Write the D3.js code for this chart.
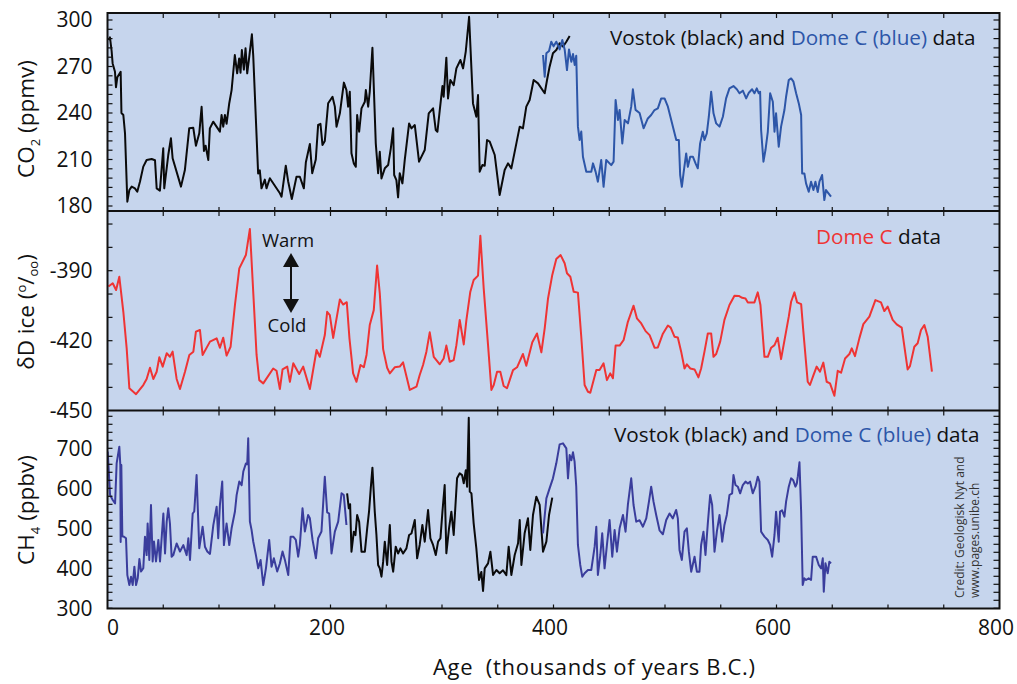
<!DOCTYPE html>
<html><head><meta charset="utf-8">
<script src="https://cdn.jsdelivr.net/npm/d3@7"></script>
<style>body{margin:0;background:#fff} svg{display:block} text{font-family:"Open Sans",sans-serif}</style>
</head><body><svg id="c" width="1017" height="684"></svg>
<script>
// ---------- DATA (age in kyr B.C., value) ----------
const co2Vostok = [[1,287],[2.2,288.8],[3.7,280],[4.6,272],[6.7,266.6],[7.6,256.6],[8.8,263],[11.8,266.6],[12.5,240],[14.2,238.7],[15.7,226.9],[17.8,182.8],[19.6,190.3],[21.7,192.5],[24.6,191.4],[26.7,189.2],[29.1,195.7],[32.1,205.4],[35.1,209.7],[39.6,210.3],[42.6,209.5],[44.1,191.4],[47.0,189.9],[50.0,217.2],[50.9,191.4],[54.5,212.9],[56.9,223.7],[58.4,210.8],[65.9,192.5],[69.4,203.2],[73.3,230.1],[76.9,230.5],[79.3,218.9],[82.3,226.9],[84.4,244],[86.5,215.5],[88.0,218.9],[90.4,209.7],[91.8,230.1],[94.8,234.4],[100.8,228],[102.3,238.7],[103.8,231.2],[105.3,238.7],[106.8,233],[109.2,246.3],[111.3,254.8],[114.2,277.4],[116.3,265.6],[118.1,275.2],[119.3,266],[120.5,280.6],[122.3,268],[123.8,281.7],[125.3,265.6],[127.1,276],[129.5,290.8],[130.7,277],[135.1,201],[136.6,203],[138.1,191.4],[141.1,197],[142.6,191.4],[145.6,197.9],[154.6,188.2],[156.1,186],[159.9,206],[162.0,196],[165.3,184.5],[169.5,198.9],[172.5,198.9],[176.1,191.4],[177.9,208.2],[181.5,220],[183.6,201.1],[186.8,210],[188.9,232.3],[191.0,233],[192.8,219.4],[194.9,222],[197.9,246.3],[201.8,250.5],[203.9,244.1],[205.4,231.2],[208.4,239.8],[212.0,259.6],[214.3,254.8],[215.8,244.1],[217.3,253.7],[218.8,214.0],[220.9,207.5],[222.7,205.3],[223.9,238.7],[225.7,227.9],[227.8,243.0],[230.8,247.3],[231.7,254.8],[233.8,244.1],[235.2,253.7],[237.6,282.1],[240.6,220.4],[242.7,201.1],[244.2,215.0],[245.7,197.8],[248.7,204.3],[251.7,206.4],[254.1,217.2],[256.2,230.1],[257.1,200.0],[259.1,196.7],[260.6,185.6],[262.1,201.1],[264.5,194.6],[266.6,209.7],[270.5,233.3],[272.6,230.1],[275.6,232.2],[279.4,208.6],[284.5,216.1],[288.1,239.8],[292.0,243.0],[294.4,229.0],[295.9,227.9],[298.0,241.9],[300.4,257.4],[301.5,250.5],[303.9,275.7],[305.4,249.4],[307.5,261.3],[310.5,258.0],[312.9,268.8],[316.5,274.2],[318.9,268.8],[321.3,279.6],[324.3,302.1],[325.5,282.8],[327.8,246.2],[330.8,237.6],[332.3,251.6],[333.8,202.1],[336.2,206.4],[338.3,206.0],[340.4,222.6],[342.8,221.5],[347.3,212.9],[351.7,187.1],[356.2,203.2],[359.2,207.5],[362.2,204.3],[366.7,220.4],[369.7,231.2],[372.6,230.1],[375.6,244.1],[378.6,248.4],[382.2,261.3],[386.1,259.1],[392.1,252.7],[394.2,261.3],[396.5,269.9],[399.5,278.5],[402.5,280.6],[405.5,285.0],[408.5,282.8],[411.5,286.0],[414.5,289.7]];
const co2DomeC = [[390.6,277.4],[392.1,263.4],[393.6,278.5],[396.0,280],[398.0,286.0],[400.1,283],[402.5,286],[405.5,281],[407.9,287.1],[410.0,281],[412.1,267.7],[413.9,281],[416.0,273],[417.5,278],[419.0,271],[420.4,277],[421.9,231.2],[423.4,222.6],[424.9,228],[426.4,211.8],[429.4,202.1],[433.9,202.1],[435.4,207.5],[437.8,202],[439.8,195.7],[442.8,209.7],[444.9,192.4],[447.3,209.7],[451.8,206.4],[453.9,208.6],[455.7,248.4],[457.8,235.5],[459.3,242],[461.7,220.4],[463.8,235.5],[466.8,233.3],[469.7,244.1],[471.2,255.3],[473.6,242],[477.2,240],[480.8,230.1],[484.6,236.5],[487.6,238.7],[490.6,241.9],[493.6,243],[496.6,249.4],[499.6,249.4],[502.6,244.1],[507.1,231.2],[510.1,222.6],[512.4,222.6],[513.6,200.0],[515.1,192.4],[516.6,201.0],[519.0,213.9],[520.5,205.3],[522.6,211.8],[525.0,211.8],[527.4,207.5],[529.4,204.3],[531.5,220.4],[533.9,227.9],[535.4,222.6],[537.5,226.9],[539.3,237.6],[541.4,253.7],[543.5,239.8],[545.9,233.3],[548.9,231.2],[551.9,237.6],[554.8,249.4],[557.8,255.9],[561.4,257.4],[564.4,255.3],[566.8,252.7],[569.8,254.4],[572.8,249.4],[575.2,253.1],[578.1,255.3],[580.2,252.7],[582.3,255.9],[584.1,252.7],[585.3,253.7],[586.2,229.0],[588.3,208.6],[590.1,216.1],[592.2,227.9],[594.3,252.7],[596.7,247.3],[598.2,227.9],[599.6,239.8],[602.0,218.3],[604.1,231.2],[607.1,241.9],[608.6,250.5],[611.0,261.3],[613.1,262.3],[615.2,260.2],[617.6,252.7],[620.0,246.2],[622.1,238.7],[623.0,201.0],[625.0,201.0],[626.5,194.6],[628.9,189.2],[631.0,195.7],[633.1,190.3],[634.9,195.7],[637.0,189],[638.5,195.7],[640.9,200.0],[642.9,183.8],[644.4,190.3],[646.8,188],[648.9,186.0]];
const dDomeC = [[0.8,-396.8],[4.7,-395.4],[7.7,-398.3],[10.6,-392.6],[14.2,-407.6],[17.2,-423.3],[19.6,-440.4],[25.6,-442.9],[32.1,-439.0],[35.1,-436.4],[38.1,-431.6],[41.1,-436.4],[44.1,-433.3],[46.5,-427.1],[49.5,-431.1],[53.1,-425.4],[56.0,-426.9],[58.4,-424.7],[62.0,-436.4],[65.0,-440.7],[69.5,-433.3],[73.4,-426.1],[77.0,-424.7],[79.3,-416.1],[82.9,-415.4],[85.3,-426.1],[91.9,-420.4],[97.9,-419.0],[100.8,-423.0],[103.8,-418.7],[106.8,-426.4],[110.4,-422.6],[114.3,-404.7],[118.2,-389.0],[124.1,-383.3],[127.7,-372.1],[133.7,-426.1],[136.1,-436.9],[139.7,-438.3],[148.6,-431.9],[151.6,-432.9],[154.6,-440.7],[157.0,-432.3],[161.2,-431.1],[163.6,-437.6],[166.6,-429.7],[171.9,-434.3],[175.5,-431.1],[181.5,-440.7],[187.5,-424.0],[190.4,-426.9],[194.9,-417.6],[197.0,-407.6],[199.4,-409.0],[202.4,-418.8],[208.4,-402.3],[211.3,-404.5],[214.6,-403.5],[217,-419],[220.3,-434.0],[223.3,-437.6],[226.9,-430.4],[229.9,-431.4],[232.3,-426.1],[235.2,-413.3],[238.8,-406.9],[241.8,-387.8],[244.2,-399.7],[247.2,-423.6],[250.8,-431.6],[253.2,-434.0],[257.6,-431.4],[262.1,-431.1],[265.1,-429.3],[271.1,-441.1],[277.1,-439.7],[280.0,-434.7],[283.0,-430.4],[286.0,-424.7],[289.0,-416.4],[292.6,-426.9],[298.0,-430.1],[301.5,-427.6],[303.9,-422.1],[306.9,-429.0],[310.5,-428.3],[312.9,-421.9],[315.9,-411.1],[319.5,-421.6],[321.9,-411.1],[325.4,-399.0],[328.4,-394.0],[332.3,-392.1],[334.4,-375.0],[337.4,-397.6],[341.3,-421.9],[344.3,-441.1],[346.4,-439.0],[349.4,-433.3],[352.3,-433.3],[355.3,-439.4],[358.3,-440.4],[363.7,-432.6],[367.3,-431.4],[372.6,-425.7],[375.6,-430.7],[381.0,-420.7],[385.2,-416.9],[389.1,-425.0],[392.1,-414.7],[395.1,-401.9],[398.9,-391.8],[402.5,-385.0],[406.4,-383.3],[410.0,-386.8],[412.1,-391.1],[415.1,-392.6],[418.1,-399.0],[421.9,-399.4],[424.9,-418.3],[427.9,-439.0],[430.9,-441.9],[433.0,-442.3],[438.4,-432.6],[441.3,-432.6],[444.9,-429.7],[447.9,-436.9],[450.9,-434.0],[453.3,-436.1],[455.7,-422.1],[459.3,-422.1],[462.9,-419.7],[466.7,-411.9],[471.8,-405.0],[474.8,-410.4],[478.7,-412.6],[482.6,-415.9],[486.2,-417.6],[490.6,-423.0],[493.6,-422.9],[498.1,-417],[502.6,-413.5],[505.1,-414.4],[508.5,-418.3],[511.5,-418.6],[514.5,-424.7],[517.5,-431.9],[519.6,-430.1],[522.6,-431.9],[526.5,-432.3],[530.0,-435.7],[532.4,-431.9],[535.4,-424.7],[538.4,-416.9],[541.4,-416.9],[543.5,-426.9],[545.9,-425.7],[549.5,-420.4],[553.3,-411.1],[557.8,-404.7],[562.3,-400.7],[566.2,-400.8],[569.2,-401.6],[572.2,-401.9],[574.3,-403.6],[578.1,-403.6],[580.2,-403.6],[583.2,-399.3],[585.6,-404.7],[589.2,-426.9],[592.2,-426.9],[595.2,-423.0],[598.2,-421.9],[601.1,-418.7],[604.1,-427.9],[608.0,-417.6],[611.0,-409.7],[613.1,-403.3],[616.1,-399.3],[618.5,-403.6],[622.1,-404.3],[624.1,-416.1],[628.0,-437.6],[630.0,-439.0],[633.0,-435.0],[636.0,-431.1],[639.0,-433.3],[642.0,-429.4],[645.0,-437.6],[648.0,-438.3],[651.9,-443.6],[654.9,-432.9],[657.9,-433.7],[661.5,-427.6],[665.4,-425.7],[667.5,-423.3],[670.4,-426.6],[674.3,-419.0],[677.9,-412.9],[683.3,-409.7],[688.7,-402.6],[693.7,-403.6],[696.7,-407.3],[699.7,-405.4],[704.2,-411.1],[707.8,-413.0],[712.3,-414.4],[717.6,-432.3],[719.7,-430.9],[723.6,-422.6],[726.6,-421.1],[729.6,-415.4],[732.6,-413.3],[735.6,-418.3],[739.4,-433.3]];
const ch4DomeCYoung = [[0.2,691.6],[2.3,583.2],[4.7,570.8],[6.8,562.4],[8.2,662.4],[10.6,704.1],[11.5,658],[11.8,466],[12.4,658],[13.3,480],[14.8,479],[16.6,475],[17.8,383],[19.6,358],[21.1,379],[22.6,358],[24.1,404],[25.6,358],[27.1,375],[28.6,423],[30.1,392],[32.1,400],[33.6,479],[35.1,433],[36.0,512],[37.5,421],[39.0,558],[40.5,417],[41.7,467],[43.5,417],[45.6,471],[47.1,417],[50.1,537],[51.6,437],[53.1,517],[54.5,550],[56.0,512],[57.5,429],[59.0,433],[62.0,462],[65.0,442],[68.0,458],[71.0,433],[72.5,475],[74.0,421],[76.4,537],[77.8,542],[79.9,633],[82.3,450],[85.3,504],[87.4,454],[89.5,442],[91.9,436],[94.9,508],[97.9,554],[99.3,475],[100.8,558],[102.9,617],[104.4,458],[106.8,512],[109.2,458],[111.3,500],[114.3,542],[115.8,583],[118.2,617],[120.3,608],[121.8,642],[124.1,662],[125.3,660],[126.2,725],[127.7,517],[129.2,496],[130.7,467],[133.1,433],[135.2,400],[137.3,421],[139.7,358],[142.1,400],[145.0,471],[147.1,404],[149.2,425],[152.2,392],[154.6,412],[157.0,442],[159.1,421],[162.1,383],[164.2,479],[166.6,479],[168.9,471],[171.0,429],[172.5,458],[174.9,550],[177.0,492],[179.9,533],[181.5,525],[183.9,471],[186.9,425],[188.9,475],[191.9,492],[194.9,629],[197.0,540],[198.8,537],[200.9,437],[203.9,491.6],[206.9,516.6],[209.9,587.4],[211.9,583.2],[214.3,508.3]];
const ch4Vostok = [[214.9,587.4],[216.4,550],[217.6,560],[218.8,441.6],[220.9,491.6],[222.4,483],[223.9,533.3],[225.7,516],[227.8,441.6],[230.8,441.6],[232.9,499.9],[234.6,543.2],[236.1,599.9],[237.6,651.6],[239.7,541.6],[241.2,483.3],[242.7,408.3],[244.2,400],[245.7,379.1],[247.2,416],[248.7,466.6],[250.8,408.3],[253.2,508.3],[254.7,416.6],[256.2,391.6],[258.5,454.1],[260.6,437],[262.7,449.9],[265.1,437],[268.1,449.9],[270.5,483.3],[272.6,487],[275.6,520.8],[277.7,424.9],[280.0,458.3],[282.4,508.3],[284.5,466.6],[287.5,545.8],[289.6,474.9],[292.0,458.3],[294.4,433],[296.5,466.6],[298.6,475],[300.4,541.6],[302.4,608.2],[303.9,437.4],[306.3,499.9],[308.4,541.6],[310.5,483.3],[313.5,624.9],[315.9,637.4],[318.0,633],[319.5,612.4],[321.3,645],[322.5,604.1],[324.0,776.6],[324.9,591.6],[326.4,587.4],[328.4,512.4],[330.8,449.9],[333.2,370.8],[335.3,391],[336.8,343.3],[338.3,399.9],[341.3,412.4],[343.4,441.6],[345.8,383.3],[348.8,395.8],[351.7,387.5],[354.7,395],[357.7,383],[359.8,454.1],[362.2,383.3],[365.2,433.3],[368.2,462.4],[369.7,520.8],[371.2,408.3],[374.1,487.4],[377.1,524.9],[379.2,445.8],[381.6,533.3],[384.6,579.1],[387.6,558.3],[390.6,441.6],[393.6,466.6],[396.0,533.3],[398.9,576.6]];
const ch4DomeCOld = [[390.6,487.4],[393.6,574.9],[396.5,599.9],[399.5,624.9],[402.5,662.4],[405.5,709.9],[408.5,712.4],[411.5,699.9],[413.0,624.9],[414.5,683.2],[416.0,670],[417.5,690],[418.9,666.6],[420.4,604.1],[421.9,458.3],[424.0,408.3],[425.8,379.1],[427.9,387.5],[430.9,395.8],[433.9,395.8],[436.9,454.1],[438.4,504.1],[439.8,383.3],[442.0,433.3],[443.7,487.4],[445.8,399.9],[447.9,458],[450.3,520.8],[452.7,429.1],[454.8,495.8],[456.9,441.6],[459.3,499.9],[462.3,533.3],[464.6,491.6],[466.7,558.3],[469.7,624.9],[471.8,558.3],[474.2,516.6],[477.2,520],[480.2,504.1],[483.2,524.9],[485.6,566.6],[487.6,604.1],[489.7,566.6],[492.1,533.3],[495.1,495],[498.1,485],[501.1,520.8],[504.1,537],[507.0,524.9],[510.0,545.8],[511.5,524.9],[513.0,446],[515.1,420.8],[517.5,491.6],[519.6,499.9],[521.4,441.6],[523.5,391.6],[526.5,429.1],[528.6,391.6],[530.9,391.6],[532.4,458.3],[534.5,491.6],[536.3,433.3],[538.4,512.4],[540.5,583.2],[542.3,558.3],[544.4,441.6],[546.5,491.6],[548.9,533.3],[551.3,466.6],[553.3,508.3],[555.4,533.3],[557.8,583.2],[560.2,587.4],[561.4,633.2],[563.2,608.2],[565.3,604],[567.4,587.4],[569.8,608.2],[572.2,616.6],[574.3,612],[576.3,616.6],[578.7,587.4],[581.1,604.1],[583.2,629.1],[584.7,616.6],[586.2,491.6],[589.2,479.1],[592.2,470.8],[594.3,458.3],[596.1,429.1],[598.2,483.3],[599.6,541.6],[602.0,466.6],[603.2,541.6],[605.0,545],[607.1,529.1],[608.6,566.6],[611.0,604.1],[613.1,624.9],[615.0,620],[617.0,604.1],[618.2,612],[619.1,629.1],[620.6,664.9],[622.1,541.6],[623.5,358.3],[625.0,374.9],[626.5,370.8],[628.9,374.9],[631.0,370.8],[632.5,429.1],[635.5,429.1],[637.9,408.3],[640.0,399.9],[641.5,424.9],[642.4,341.6],[643.9,412.4],[645.9,387.5],[647.4,416.6],[648.9,412.4]];

const ageTicks = [0, 200, 400, 600, 800];
const co2Ticks = [180, 210, 240, 270, 300];
const dDTicks = [-450, -420, -390];
const ch4Ticks = [300, 400, 500, 600, 700];

// ---------- LAYOUT ----------
const svg = d3.select("#c");
const L = 107.5, R = 999.5;
const x = d3.scaleLinear().domain([0, 800]).range([L, R]);
const BG = "#c6d5ed";
const C_BLACK = "#0a0a0a", C_BLUE_CO2 = "#2d56a8", C_RED = "#ef3434", C_BLUE_CH4 = "#3a3d9c";

const panels = [
  {top: 13, bottom: 211, y: d3.scaleLinear().domain([180, 300]).range([206, 20]), minor: [180, 304, 6], ticks: co2Ticks,
   series: [{d: co2Vostok, c: C_BLACK}, {d: co2DomeC, c: C_BLUE_CO2}]},
  {top: 211, bottom: 410.5, y: d3.scaleLinear().domain([-450, -390]).range([410.7, 270.7]), minor: [-450, -364, 10], ticks: dDTicks,
   series: [{d: dDomeC, c: C_RED}]},
  {top: 410.5, bottom: 608.5, y: d3.scaleLinear().domain([300, 700]).range([608.3, 448.3]), minor: [300, 794, 20], ticks: ch4Ticks,
   series: [{d: ch4DomeCYoung, c: C_BLUE_CH4}, {d: ch4Vostok, c: C_BLACK}, {d: ch4DomeCOld, c: C_BLUE_CH4}]}
];

const defs = svg.append("defs");
panels.forEach((p, i) => {
  svg.append("rect").attr("x", L).attr("y", p.top).attr("width", R - L).attr("height", p.bottom - p.top).attr("fill", BG);
  defs.append("clipPath").attr("id", "clip" + i).append("rect")
    .attr("x", L).attr("y", p.top).attr("width", R - L).attr("height", p.bottom - p.top);
});

panels.forEach((p, i) => {
  const g = svg.append("g").attr("clip-path", `url(#clip${i})`);
  const line = d3.line().x(d => x(d[0])).y(d => p.y(d[1]));
  p.series.forEach(s => {
    g.append("path").attr("d", line(s.d)).attr("fill", "none").attr("stroke", s.c)
      .attr("stroke-width", 2).attr("stroke-linejoin", "round");
  });
});

// ticks
const tk = svg.append("g").attr("stroke", "#111").attr("stroke-width", 1.2);
panels.forEach((p, i) => {
  const vals = d3.range(p.minor[0], p.minor[1], p.minor[2]).filter(v => p.y(v) >= p.top + 2 && p.y(v) <= p.bottom);
  vals.forEach(v => {
    const yy = p.y(v);
    tk.append("line").attr("x1", L).attr("x2", L + 5).attr("y1", yy).attr("y2", yy);
    tk.append("line").attr("x1", R - 6).attr("x2", R).attr("y1", yy).attr("y2", yy);
  });
  d3.range(50, 800, 50).forEach(a => {
    tk.append("line").attr("x1", x(a)).attr("x2", x(a)).attr("y1", p.top).attr("y2", p.top + 5);
    tk.append("line").attr("x1", x(a)).attr("x2", x(a)).attr("y1", p.bottom).attr("y2", p.bottom - 4);
  });
});

// frames
const fr = svg.append("g").attr("fill", "none").attr("stroke", "#111").attr("stroke-width", 2);
fr.append("rect").attr("x", L).attr("y", panels[0].top).attr("width", R - L).attr("height", panels[2].bottom - panels[0].top);
fr.append("line").attr("x1", L).attr("x2", R).attr("y1", panels[0].bottom).attr("y2", panels[0].bottom);
fr.append("line").attr("x1", L).attr("x2", R).attr("y1", panels[1].bottom).attr("y2", panels[1].bottom);

// y tick labels through axes
panels.forEach(p => {
  const ax = svg.append("g").attr("transform", `translate(${L},0)`)
    .call(d3.axisLeft(p.y).tickValues(p.ticks).tickSize(0).tickPadding(15).tickFormat(d => String(d)));
  ax.select(".domain").remove();
  ax.selectAll("text").attr("font-family", "Open Sans").attr("font-size", 21).attr("fill", "#111");
});
// x tick labels
const xa = svg.append("g").attr("transform", `translate(0,${panels[2].bottom})`)
  .call(d3.axisBottom(x).tickValues(ageTicks).tickSize(0).tickPadding(12).tickFormat(d => String(d)));
xa.select(".domain").remove();
xa.selectAll("text").attr("font-family", "Open Sans").attr("font-size", 21).attr("fill", "#111")
  .attr("dx", d => d === 0 ? 5 : -4);

// axis titles
svg.append("text").attr("x", 433).attr("y", 675).attr("font-size", 22).attr("fill", "#111")
  .attr("textLength", 322).attr("lengthAdjust", "spacing")
  .text("Age  (thousands of years B.C.)").style("white-space", "pre").attr("xml:space", "preserve");

function yTitle(cx, cy, parts) {
  const t = svg.append("text").attr("transform", `translate(${cx},${cy}) rotate(-90)`)
    .attr("text-anchor", "middle").attr("font-size", 22.5).attr("fill", "#111");
  parts.forEach(pt => {
    const s = t.append("tspan").text(pt.t);
    if (pt.fs) s.attr("font-size", pt.fs);
    if (pt.dy) s.attr("dy", pt.dy);
  });
}
yTitle(34, 119, [{t: "CO"}, {t: "2", fs: 13, dy: 6}, {t: " (ppmv)", dy: -6}]);
yTitle(34, 312, [{t: "δD ice ("}, {t: "o", fs: 13, dy: -8}, {t: "/", dy: 8}, {t: "oo", fs: 13, dy: 4}, {t: ")", dy: -4}]);
yTitle(34, 510, [{t: "CH"}, {t: "4", fs: 13, dy: 6}, {t: " (ppbv)", dy: -6}]);

// annotations
function anno(xx, yy, parts) {
  const t = svg.append("text").attr("x", xx).attr("y", yy).attr("font-size", 20.7).attr("xml:space", "preserve");
  parts.forEach(pt => t.append("tspan").attr("fill", pt.c).text(pt.t));
}
anno(610, 45, [{t: "Vostok (black) and ", c: "#111"}, {t: "Dome C (blue)", c: C_BLUE_CO2}, {t: " data", c: "#111"}]);
anno(816, 244, [{t: "Dome C", c: C_RED}, {t: " data", c: "#111"}]);
anno(614, 442, [{t: "Vostok (black) and ", c: "#111"}, {t: "Dome C (blue)", c: C_BLUE_CO2}, {t: " data", c: "#111"}]);

svg.append("text").attr("x", 288).attr("y", 247).attr("text-anchor", "middle").attr("font-size", 18.5).attr("fill", "#111").text("Warm");
svg.append("text").attr("x", 287).attr("y", 332).attr("text-anchor", "middle").attr("font-size", 18.5).attr("fill", "#111").text("Cold");
// double arrow
const ax0 = 291;
svg.append("line").attr("x1", ax0).attr("x2", ax0).attr("y1", 262).attr("y2", 304).attr("stroke", "#111").attr("stroke-width", 2);
svg.append("path").attr("d", `M${ax0},253 L${ax0 - 8},267 L${ax0 + 8},267 Z`).attr("fill", "#111");
svg.append("path").attr("d", `M${ax0},313 L${ax0 - 8},299 L${ax0 + 8},299 Z`).attr("fill", "#111");

// credit
svg.append("text").attr("transform", "translate(964,598) rotate(-90)").attr("font-family", "Liberation Sans, Arial")
  .attr("font-size", 12).attr("fill", "#333").text("Credit: Geologisk Nyt and");
svg.append("text").attr("transform", "translate(979,598) rotate(-90)").attr("font-family", "Liberation Sans, Arial")
  .attr("font-size", 12).attr("fill", "#333").text("www.pages.unibe.ch");
</script></body></html>
